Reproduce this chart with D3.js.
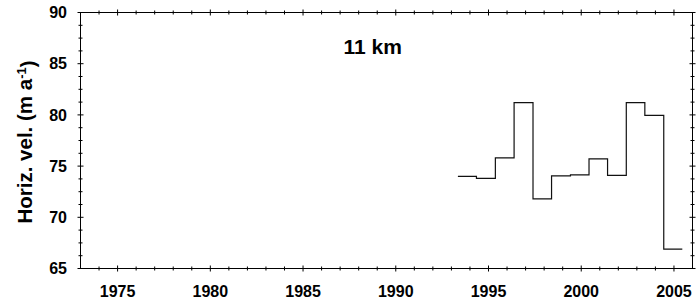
<!DOCTYPE html>
<html>
<head>
<meta charset="utf-8">
<script src="https://cdn.jsdelivr.net/npm/d3@7"></script>
<style>
  body { margin: 0; background: #fff; }
  svg { display: block; font-family: "Liberation Sans", Arial, sans-serif; }
  .lbl { font-weight: bold; font-size: 16px; fill: #000; }
</style>
</head>
<body>
<script>
const w = 696;
const h = 302;

// step edges (decimal years) and the velocity of each step
const stepEdges = [1993.35, 1994.35, 1995.37, 1996.38, 1997.4, 1998.4, 1999.42,
                   2000.42, 2001.42, 2002.43, 2003.43, 2004.45, 2005.45];
const velocity = [74.0, 73.8, 75.8, 81.2, 71.8, 74.05, 74.15, 75.7, 74.1, 81.2, 79.95, 66.9];

const xTicks = [1975, 1980, 1985, 1990, 1995, 2000, 2005];
const yTicks = [65, 70, 75, 80, 85, 90];
const title = "11 km";

const plotL = 80.5, plotR = 692.5, plotT = 12.5, plotB = 268.5;

const svg = d3.select("body").append("svg")
  .attr("width", w)
  .attr("height", h);

const x = d3.scaleLinear().domain([1973, 2006]).range([plotL, plotR]);
const y = d3.scaleLinear().domain([65, 90]).range([plotB, plotT]);

// minor ticks: every year on x, every 1.25 on y
const xMinor = d3.range(1974, 2006, 1);
const yMinor = d3.range(65, 90.01, 1.25);

const ticks = svg.append("g").attr("stroke", "#000").attr("stroke-width", 1);
xMinor.forEach(function(t) {
  const len = xTicks.includes(t) ? 3 : 2;
  ticks.append("line").attr("x1", x(t)).attr("x2", x(t))
    .attr("y1", plotB - len).attr("y2", plotB + len);
  ticks.append("line").attr("x1", x(t)).attr("x2", x(t))
    .attr("y1", plotT - len).attr("y2", plotT + len);
});
yMinor.forEach(function(t) {
  const len = yTicks.includes(t) ? 3 : 2;
  ticks.append("line").attr("y1", y(t)).attr("y2", y(t))
    .attr("x1", plotL - len).attr("x2", plotL + len);
  ticks.append("line").attr("y1", y(t)).attr("y2", y(t))
    .attr("x1", plotR - len).attr("x2", plotR + len);
});

// frame
svg.append("rect")
  .attr("x", plotL).attr("y", plotT)
  .attr("width", plotR - plotL).attr("height", plotB - plotT)
  .attr("fill", "none").attr("stroke", "#000").attr("stroke-width", 1);

// tick labels
svg.selectAll(".ylab").data(yTicks).enter().append("text")
  .attr("class", "lbl ylab")
  .attr("x", 67)
  .attr("y", d => y(d))
  .attr("dy", "0.36em")
  .attr("text-anchor", "end")
  .text(d => d);

svg.selectAll(".xlab").data(xTicks).enter().append("text")
  .attr("class", "lbl xlab")
  .attr("x", d => x(d))
  .attr("y", 297)
  .attr("text-anchor", "middle")
  .text(d => d);

// y axis title
const yt = svg.append("text")
  .attr("class", "lbl")
  .style("font-size", "20.5px")
  .attr("transform", "translate(32,142) rotate(-90)")
  .attr("text-anchor", "middle");
yt.append("tspan").text("Horiz. vel. (m a");
yt.append("tspan").attr("dy", "-0.45em").style("font-size", "13px").text("-1");
yt.append("tspan").attr("dy", "0.45em").text(")");

// panel title
svg.append("text")
  .attr("x", 372.7)
  .attr("y", 54)
  .attr("text-anchor", "middle")
  .style("font-weight", "bold")
  .style("font-size", "21px")
  .text(title);

// step line
const pts = velocity.map((v, i) => [stepEdges[i], v]);
pts.push([stepEdges[stepEdges.length - 1], velocity[velocity.length - 1]]);

const line = d3.line()
  .x(d => x(d[0]))
  .y(d => y(d[1]))
  .curve(d3.curveStepAfter);

svg.append("path")
  .datum(pts)
  .attr("d", line)
  .attr("fill", "none")
  .attr("stroke", "#111")
  .attr("stroke-width", 1.2);
</script>
</body>
</html>
